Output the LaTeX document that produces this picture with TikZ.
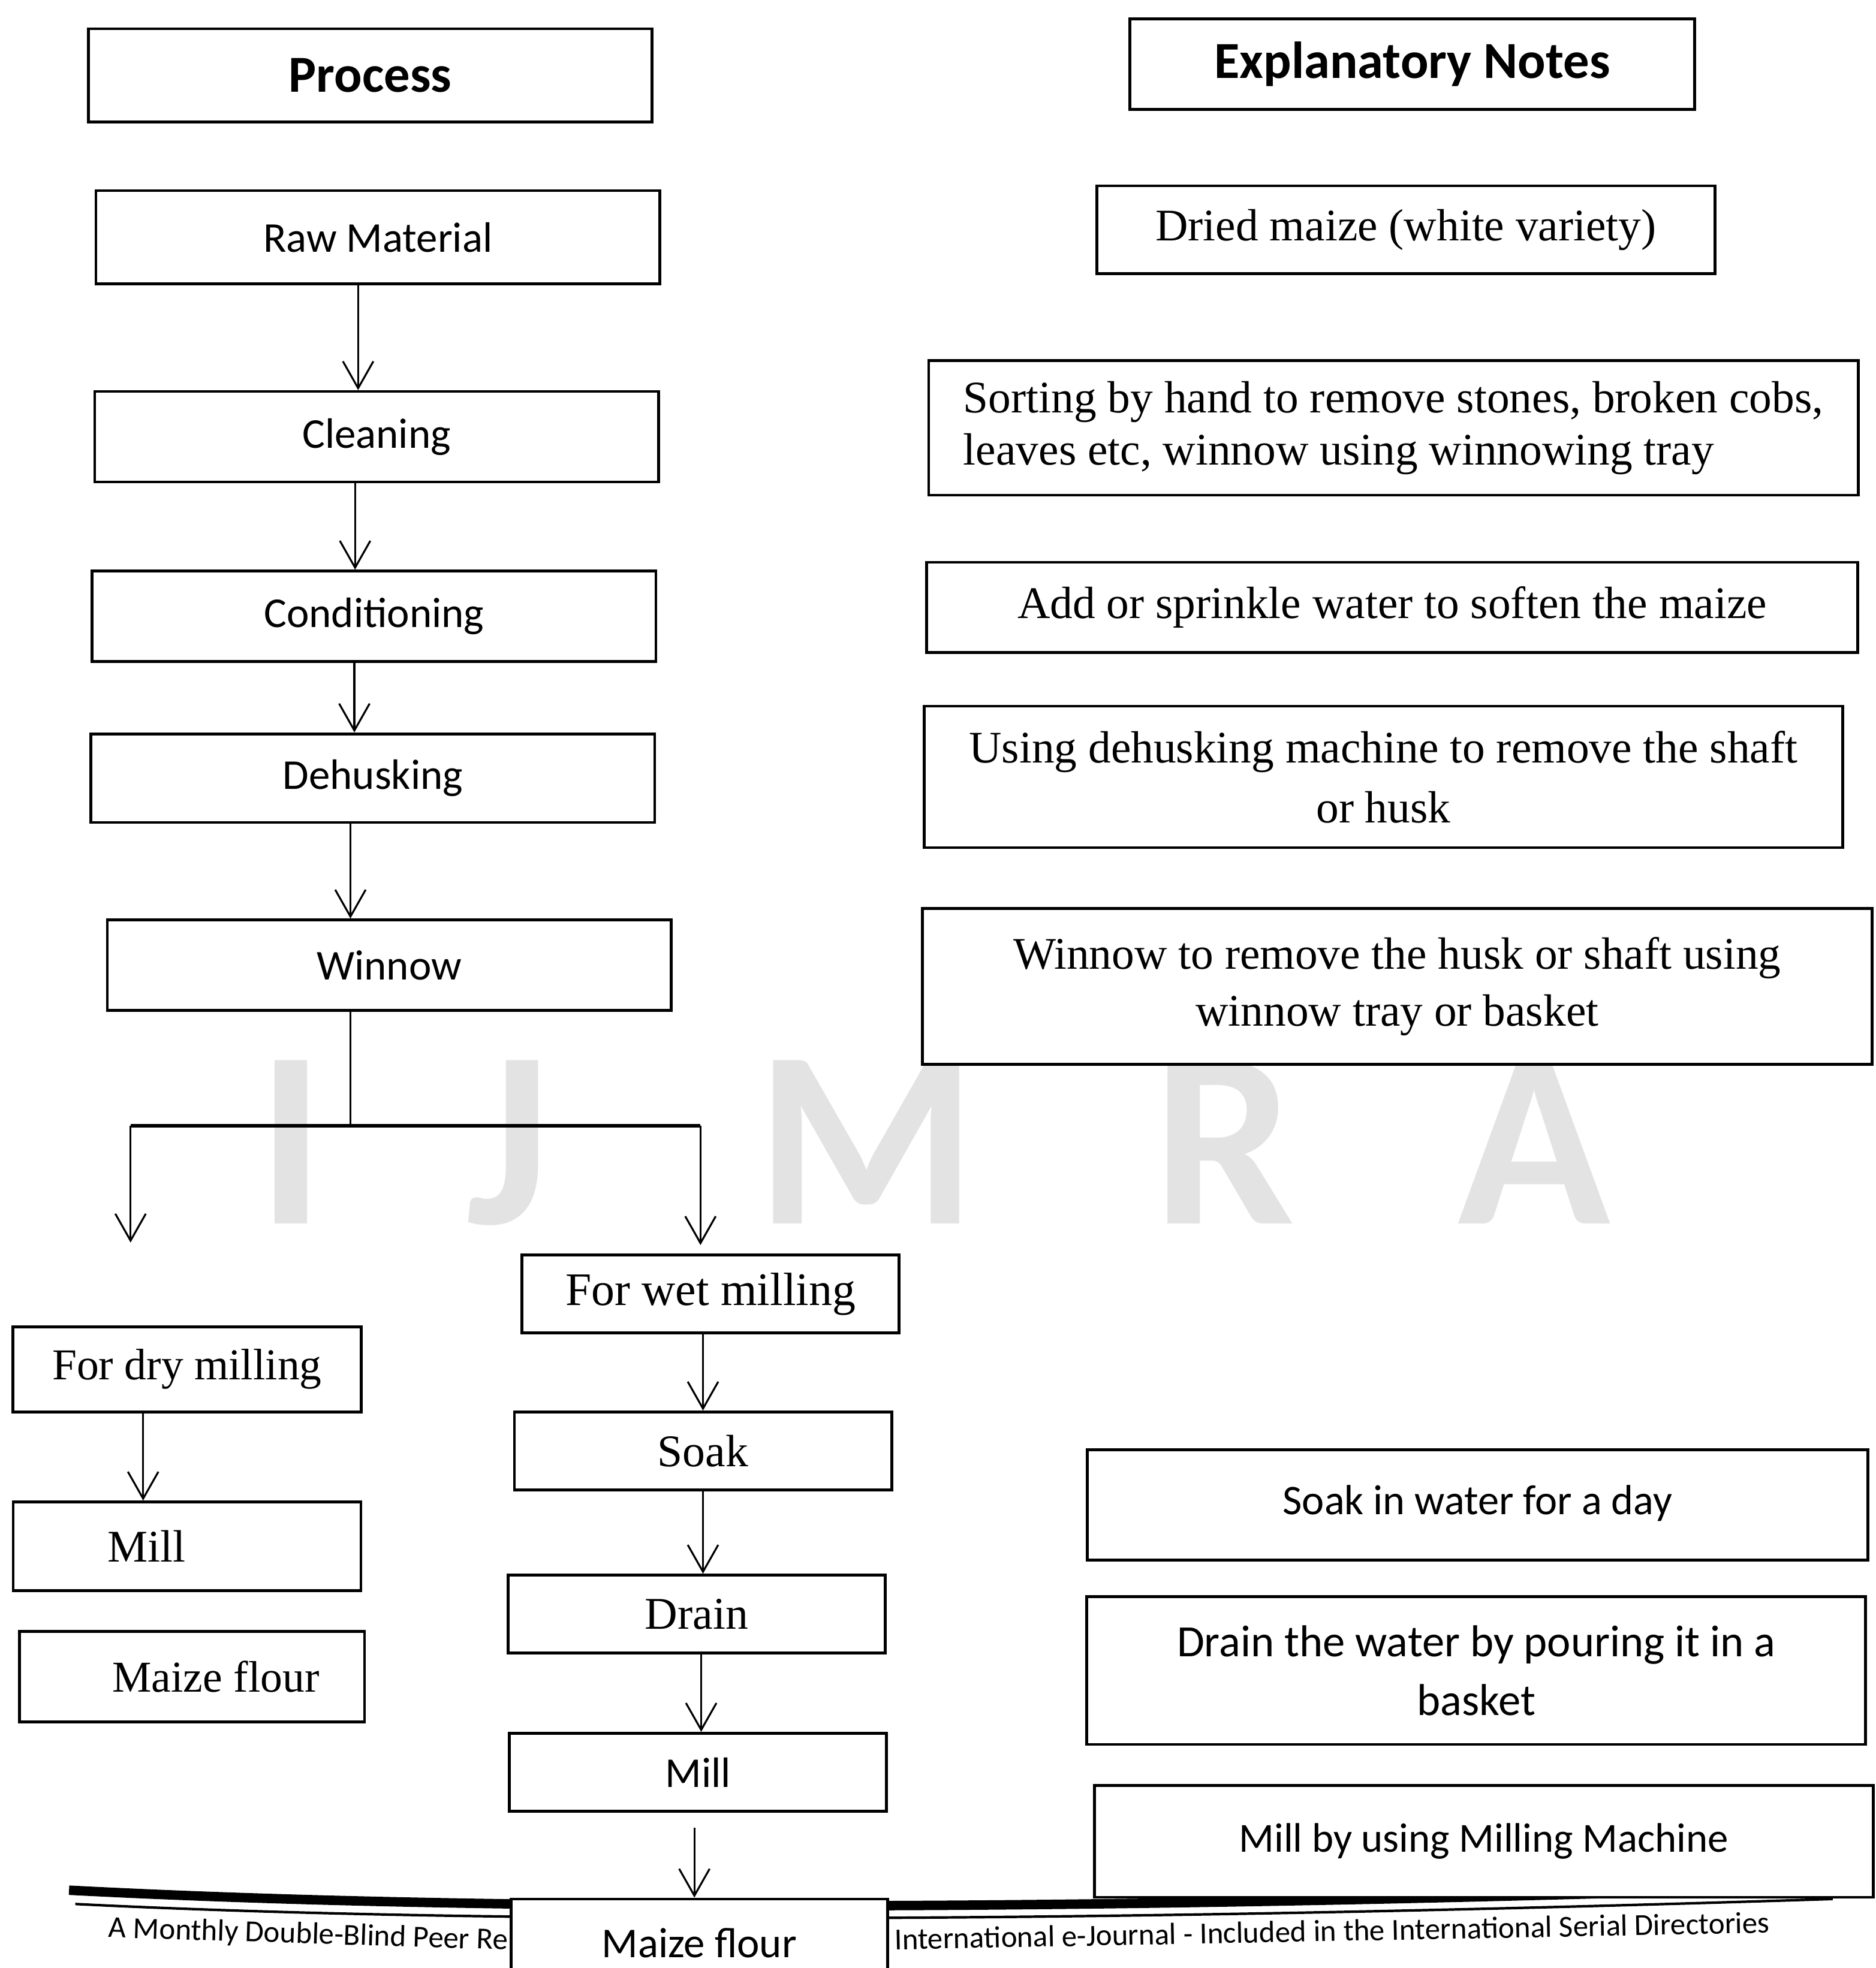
\documentclass[tikz,border=0pt]{standalone}
\usepackage{fontspec}
\setmainfont{Liberation Serif}
\setsansfont{Carlito}
\usetikzlibrary{shapes,arrows,arrows.meta}

\tikzstyle{head} = [rectangle, draw, line width=0.9pt, fill=white, text centered,
font=\sffamily\bfseries\fontsize{16.5}{20}\selectfont]
\tikzstyle{block} = [rectangle, draw, line width=0.9pt, fill=white, text centered,
minimum width=6.29cm, minimum height=1.01cm, font=\sffamily\fontsize{13.5}{16}\selectfont]
\tikzstyle{note} = [rectangle, draw, line width=0.9pt, fill=white, align=center,
font=\fontsize{14.35}{18}\selectfont]
\tikzstyle{notesans} = [note, font=\sffamily\fontsize{13.4}{18.5}\selectfont]
\tikzstyle{milling} = [rectangle, draw, line width=0.9pt, fill=white, text centered,
minimum width=4.21cm, minimum height=0.87cm, font=\fontsize{14.4}{17}\selectfont]
\tikzstyle{line} = [draw, line width=0.6pt, -{Straight Barb[length=3mm,width=3.4mm]}]
\tikzstyle{wmark} = [text=gray!22, anchor=base, inner sep=0pt, font=\sffamily\bfseries\fontsize{80}{80}\selectfont]
\tikzstyle{footer} = [inner sep=0pt, font=\sffamily\fontsize{9.7}{11}\selectfont]

\begin{document}
\begin{tikzpicture}[x=0.014cm, y=-0.014cm]
\useasboundingbox (0,0) rectangle (1494,1568);
% faint watermark behind the chart
\foreach \l/\x in {I/232, J/405, M/690, R/975, A/1222}
  \node [wmark] (wm\l) at (\x,975) {\l};
% page footer
\draw [line width=3pt] (55,1506) .. controls (400,1524) and (900,1522) .. (1460,1503);
\draw [line width=0.8pt] (60,1517) .. controls (400,1534) and (900,1531) .. (1460,1513);
\node [footer, anchor=east, rotate=-1.8] (ftleft) at (405,1547) {A Monthly Double-Blind Peer Re};
\node [footer, anchor=west, rotate=1.1] (ftright) at (712,1545) {International e-Journal - Included in the International Serial Directories};

% headings
\node [head, minimum width=6.29cm, minimum height=1.04cm] (proc) at (295,60) {\raisebox{-0.03cm}{Process}};
\node [head, minimum width=6.30cm, minimum height=1.01cm] (expl) at (1125,51) {Explanatory Notes};

% process column
\node [block, minimum height=1.04cm] (raw) at (301,189) {Raw Material};
\node [block] (clean) at (300,348) {Cleaning};
\node [block] (cond) at (298,491) {Conditioning};
\node [block, minimum height=0.99cm] (dehusk) at (297,620) {Dehusking};
\node [block] (winnow) at (310,769) {Winnow};

% notes column
\node [note, minimum width=6.90cm, minimum height=0.98cm] (dried) at (1120,183) {Dried maize (white variety)};
\node [note, align=left, minimum width=10.37cm, minimum height=1.50cm, font=\fontsize{14.35}{16.5}\selectfont] (sort) at (1110,341)
  {Sorting by hand to remove stones, broken cobs,\\leaves etc, winnow using winnowing tray};
\node [note, minimum width=10.39cm, minimum height=1.01cm] (sprinkle) at (1109,484) {Add or sprinkle water to soften the maize};
\node [note, minimum width=10.25cm, minimum height=1.58cm, font=\fontsize{14.35}{19}\selectfont] (usemach) at (1102,619)
  {Using dehusking machine to remove the shaft\\or husk};
\node [note, minimum width=10.60cm, minimum height=1.74cm] (wintray) at (1113,786)
  {Winnow to remove the husk or shaft using\\winnow tray or basket};

% split after winnowing
\coordinate (fork) at (279,897);
\coordinate (dryend) at (104,990);
\coordinate (wetend) at (558,992);
\draw [line width=0.6pt] (winnow.south -| fork) -- (fork);
\draw [line width=1pt] (dryend |- fork) -- (wetend |- fork);
\path [line] (dryend |- fork) -- (dryend);
\path [line] (wetend |- fork) -- (wetend);

% dry milling
\node [milling, minimum width=3.89cm, minimum height=0.95cm, font=\fontsize{14}{17}\selectfont] (dry) at (149,1091) {For dry milling};
\node [milling, minimum width=3.88cm, minimum height=0.99cm] (milld) at (149,1232) {Mill\hspace*{0.9cm}};
\node [milling, minimum width=3.85cm, minimum height=1.01cm, font=\fontsize{14}{17}\selectfont] (flourd) at (153,1336) {\hspace*{0.53cm}Maize flour};

% wet milling
\node [milling, font=\fontsize{14.8}{17}\selectfont] (wet) at (566,1031) {For wet milling};
\node [milling] (soak) at (560,1156) {Soak};
\node [milling] (drain) at (555,1286) {Drain};
\node [milling, font=\sffamily\fontsize{13.5}{16}\selectfont] (millw) at (556,1412) {Mill};
\node [milling, minimum width=4.20cm, minimum height=0.98cm, font=\sffamily\fontsize{13.5}{16}\selectfont] (flourw) at (557,1548) {Maize flour};

% notes for wet milling
\node [notesans, minimum width=8.71cm, minimum height=1.23cm] (soaknote) at (1177,1199) {\raisebox{0.11cm}{Soak in water for a day}};
\node [notesans, minimum width=8.69cm, minimum height=1.65cm, font=\sffamily\fontsize{14.2}{18.8}\selectfont] (drainnote) at (1176,1331)
  {Drain the water by pouring it in a\\basket};
\node [notesans, minimum width=8.69cm, minimum height=1.25cm, font=\sffamily\fontsize{13.1}{16}\selectfont] (millnote) at (1182,1467) {\raisebox{0.08cm}{Mill by using Milling Machine}};

% connectors
\path [line] ([xshift=-0.22cm]raw.south) -- ([xshift=-0.22cm]raw.south |- clean.north);
\path [line] ([xshift=-0.24cm]clean.south) -- ([xshift=-0.24cm]clean.south |- cond.north);
\path [line] ([xshift=-0.22cm]cond.south) -- ([xshift=-0.22cm]cond.south |- dehusk.north);
\path [line] ([xshift=-0.25cm]dehusk.south) -- ([xshift=-0.25cm]dehusk.south |- winnow.north);
\path [line] ([xshift=-0.49cm]dry.south) -- ([xshift=-0.49cm]dry.south |- milld.north);
\path [line] (wet.south -| soak) -- (soak.north);
\path [line] (soak.south) -- (soak.south |- drain.north);
\path [line] ([xshift=0.05cm]drain.south) -- ([xshift=0.05cm]drain.south |- millw.north);
\path [line] ([xshift=-0.04cm,yshift=-0.17cm]millw.south) -- ([xshift=-0.04cm]millw.south |- flourw.north);
\end{tikzpicture}
\end{document}
